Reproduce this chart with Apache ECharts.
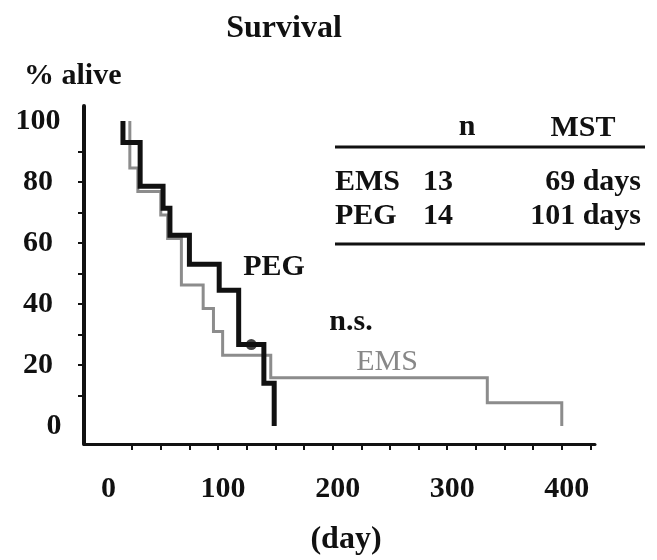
<!DOCTYPE html>
<html>
<head>
<meta charset="utf-8">
<script src="https://cdn.jsdelivr.net/npm/echarts@6/dist/echarts.min.js"></script>
<style>html,body{margin:0;padding:0;background:#fff;}#c{width:657px;height:560px;}</style>
</head>
<body>
<div id="c"></div>
<script>
// Kaplan-Meier steps: [event day, % alive after event], first pair is the start at 100%
const pegDays = [17, 17, 32, 52, 58, 75, 101, 118, 140, 149];
const pegSurvival = [100, 92.9, 78.6, 71.4, 62.5, 53, 44.5, 26.7, 14, 0];
const emsDays = [23, 23, 30, 50, 56, 68, 87, 96, 104, 146, 335, 400];
const emsSurvival = [100, 84.6, 76.9, 69.2, 61.5, 46.2, 38.5, 31, 23.2, 15.8, 7.6, 0];
const censorDays = [129];
const censorSurvival = [26.7];
const xLabelValues = [0, 100, 200, 300, 400];
const xTickValues = [25, 50, 75, 100, 125, 150, 175, 200, 225, 250, 275, 300, 325, 350, 375, 400, 425];
const yLabelValues = [0, 20, 40, 60, 80, 100];
const yTickValues = [10, 20, 30, 40, 50, 60, 70, 80, 90];
const tableHeader = ['n', 'MST'];
const tableRows = [['EMS', '13', '69 days'], ['PEG', '14', '101 days']];

const FONT = '"Liberation Serif", "Times New Roman", serif';
const zip = (a, b) => a.map((v, i) => [v, b[i]]);

const chart = echarts.init(document.getElementById('c'), null, {renderer: 'canvas'});
const txt = (x, y, text, opt) => Object.assign({
  type: 'text', x: x, y: y,
  style: Object.assign({text: text, font: 'bold 30px ' + FONT, fill: '#111', align: 'left', verticalAlign: 'middle'}, opt || {})
});

const graphics = [
  txt(284, 29, 'Survival', {align: 'center', font: 'bold 32px ' + FONT}),
  txt(24, 76, '% alive'),
  txt(346, 540, '(day)', {align: 'center', font: 'bold 32px ' + FONT}),
  txt(467, 127, tableHeader[0], {align: 'center'}),
  txt(583, 128, tableHeader[1], {align: 'center'}),
  {type: 'line', shape: {x1: 335, y1: 147, x2: 645, y2: 147}, style: {stroke: '#111', lineWidth: 3}},
  {type: 'line', shape: {x1: 335, y1: 244, x2: 645, y2: 244}, style: {stroke: '#111', lineWidth: 3}},
  txt(274, 267, 'PEG', {align: 'center'}),
  txt(351, 322, 'n.s.', {align: 'center'}),
  txt(387, 362, 'EMS', {align: 'center', fill: '#888', font: 'normal 30px ' + FONT})
];
const rowY = [182, 216];
tableRows.forEach((r, i) => {
  graphics.push(txt(335, rowY[i], r[0]));
  graphics.push(txt(438, rowY[i], r[1], {align: 'center'}));
  graphics.push(txt(641, rowY[i], r[2], {align: 'right'}));
});

chart.setOption({
  animation: false,
  backgroundColor: '#fff',
  grid: {left: 84, right: 62, top: 106, bottom: 116},
  xAxis: {
    type: 'value', min: -17, max: 429,
    splitLine: {show: false},
    axisLine: {show: true, onZero: false, lineStyle: {color: '#111', width: 3}},
    axisTick: {show: true, inside: false, length: 6, customValues: xTickValues, lineStyle: {color: '#111', width: 2}},
    axisLabel: {customValues: xLabelValues, margin: 30, padding: [0, 0, 0, 10],
      fontFamily: FONT, fontWeight: 'bold', fontSize: 30, color: '#111'}
  },
  yAxis: {
    type: 'value', min: -5.9, max: 104.9,
    splitLine: {show: false},
    axisLine: {show: true, onZero: false, lineStyle: {color: '#111', width: 4}},
    axisTick: {show: true, inside: false, length: 6, customValues: yTickValues, lineStyle: {color: '#111', width: 2}},
    axisLabel: {customValues: yLabelValues, margin: 46, align: 'center',
      fontFamily: FONT, fontWeight: 'bold', fontSize: 30, color: '#111',
      formatter: v => v === 0 ? '{z|0}' : String(v),
      rich: {z: {padding: [0, 0, 0, 32], fontFamily: FONT, fontWeight: 'bold', fontSize: 30, color: '#111'}}}
  },
  series: [
    {type: 'line', name: 'EMS', step: 'end', data: zip(emsDays, emsSurvival), symbol: 'none',
      lineStyle: {color: '#8c8c8c', width: 3, cap: 'butt', join: 'miter'}, z: 2},
    {type: 'line', name: 'PEG', step: 'end', data: zip(pegDays, pegSurvival), symbol: 'none',
      lineStyle: {color: '#111', width: 5, cap: 'butt', join: 'miter'}, z: 3},
    {type: 'scatter', name: 'censored', data: zip(censorDays, censorSurvival), symbol: 'circle', symbolSize: 11,
      itemStyle: {color: '#111'}, z: 4}
  ],
  graphic: graphics
});
</script>
</body>
</html>
